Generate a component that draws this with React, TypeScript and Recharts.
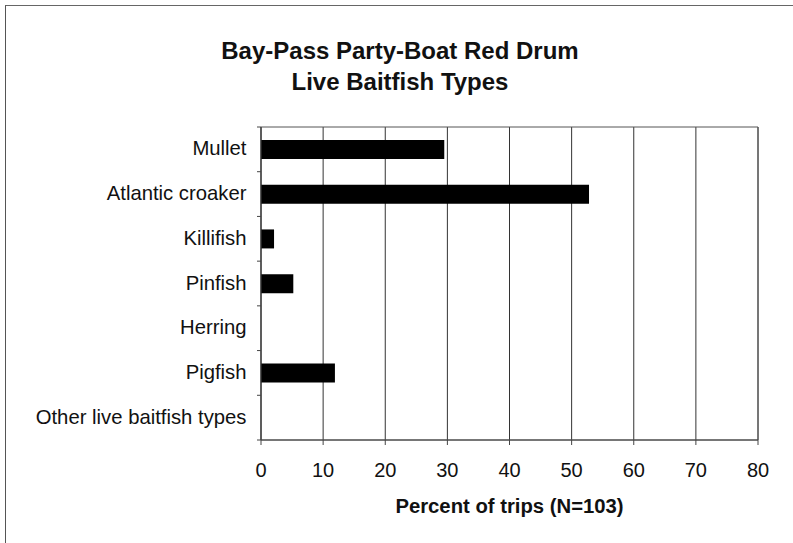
import React from "react";
import { BarChart, Bar, XAxis, YAxis, CartesianGrid, ReferenceArea } from "recharts";

const categories = [
  "Mullet",
  "Atlantic croaker",
  "Killifish",
  "Pinfish",
  "Herring",
  "Pigfish",
  "Other live baitfish types",
];
const percentOfTrips = [29.5, 52.8, 2.1, 5.2, 0, 11.9, 0];
const xTicks = [0, 10, 20, 30, 40, 50, 60, 70, 80];

const data = categories.map((name, i) => ({ name, value: percentOfTrips[i] }));

const FONT = "'Liberation Sans', Arial, Helvetica, sans-serif";
const PLOT_TOP = 127;
const PLOT_BOTTOM = 440;
const BAND = (PLOT_BOTTOM - PLOT_TOP) / categories.length;

// category label plus a small tick at the band boundaries
const CategoryTick = ({ x, y, payload }: any) => (
  <g>
    <text
      x={x - 6.5}
      y={y}
      dy={6}
      textAnchor="end"
      fontSize={20.3}
      fontFamily={FONT}
      fill="#111"
    >
      {payload.value}
    </text>
    <line x1={x + 4} x2={x + 8} y1={y + BAND / 2} y2={y + BAND / 2} stroke="#444" />
    {payload.index === 0 && (
      <line x1={x + 4} x2={x + 8} y1={y - BAND / 2} y2={y - BAND / 2} stroke="#444" />
    )}
  </g>
);

export default function App() {
  return (
    <div
      style={{
        position: "absolute",
        left: 0,
        top: 0,
        width: 793,
        height: 543,
        background: "#fff",
        fontFamily: FONT,
        overflow: "hidden",
      }}
    >
      <div
        style={{
          position: "absolute",
          left: 5,
          top: 5,
          width: 788,
          height: 538,
          borderLeft: "1.5px solid #555",
          borderTop: "1px solid #666",
        }}
      />
      <div
        style={{
          position: "absolute",
          left: 0,
          width: 800,
          top: 35,
          textAlign: "center",
          fontWeight: "bold",
          fontSize: 24,
          lineHeight: "31px",
          color: "#111",
        }}
      >
        <div>Bay-Pass Party-Boat Red Drum</div>
        <div>Live Baitfish Types</div>
      </div>
      <div style={{ position: "absolute", left: 0, top: 0 }}>
        <BarChart
          width={793}
          height={543}
          data={data}
          layout="vertical"
          margin={{ top: PLOT_TOP, right: 35, bottom: 0, left: 0 }}
        >
          <CartesianGrid horizontal={false} stroke="#333" strokeWidth={1} />
          <ReferenceArea x1={0} x2={80} fill="none" stroke="#555" strokeWidth={1} ifOverflow="visible" />
          <XAxis
            type="number"
            domain={[0, 80]}
            ticks={xTicks}
            height={543 - PLOT_BOTTOM}
            axisLine={{ stroke: "#444" }}
            tickLine={{ stroke: "#444" }}
            tickSize={5}
            tickMargin={18}
            tick={{ fontSize: 20, fill: "#111", fontFamily: FONT }}
            label={{
              value: "Percent of trips (N=103)",
              position: "insideBottom",
              offset: 30,
              fontSize: 20.3,
              fontWeight: "bold",
              fill: "#111",
              fontFamily: FONT,
            }}
          />
          <YAxis
            type="category"
            dataKey="name"
            width={261}
            axisLine={{ stroke: "#444" }}
            tickLine={false}
            tick={<CategoryTick />}
            interval={0}
          />
          <Bar dataKey="value" fill="#000" barSize={19} isAnimationActive={false} />
        </BarChart>
      </div>
    </div>
  );
}
